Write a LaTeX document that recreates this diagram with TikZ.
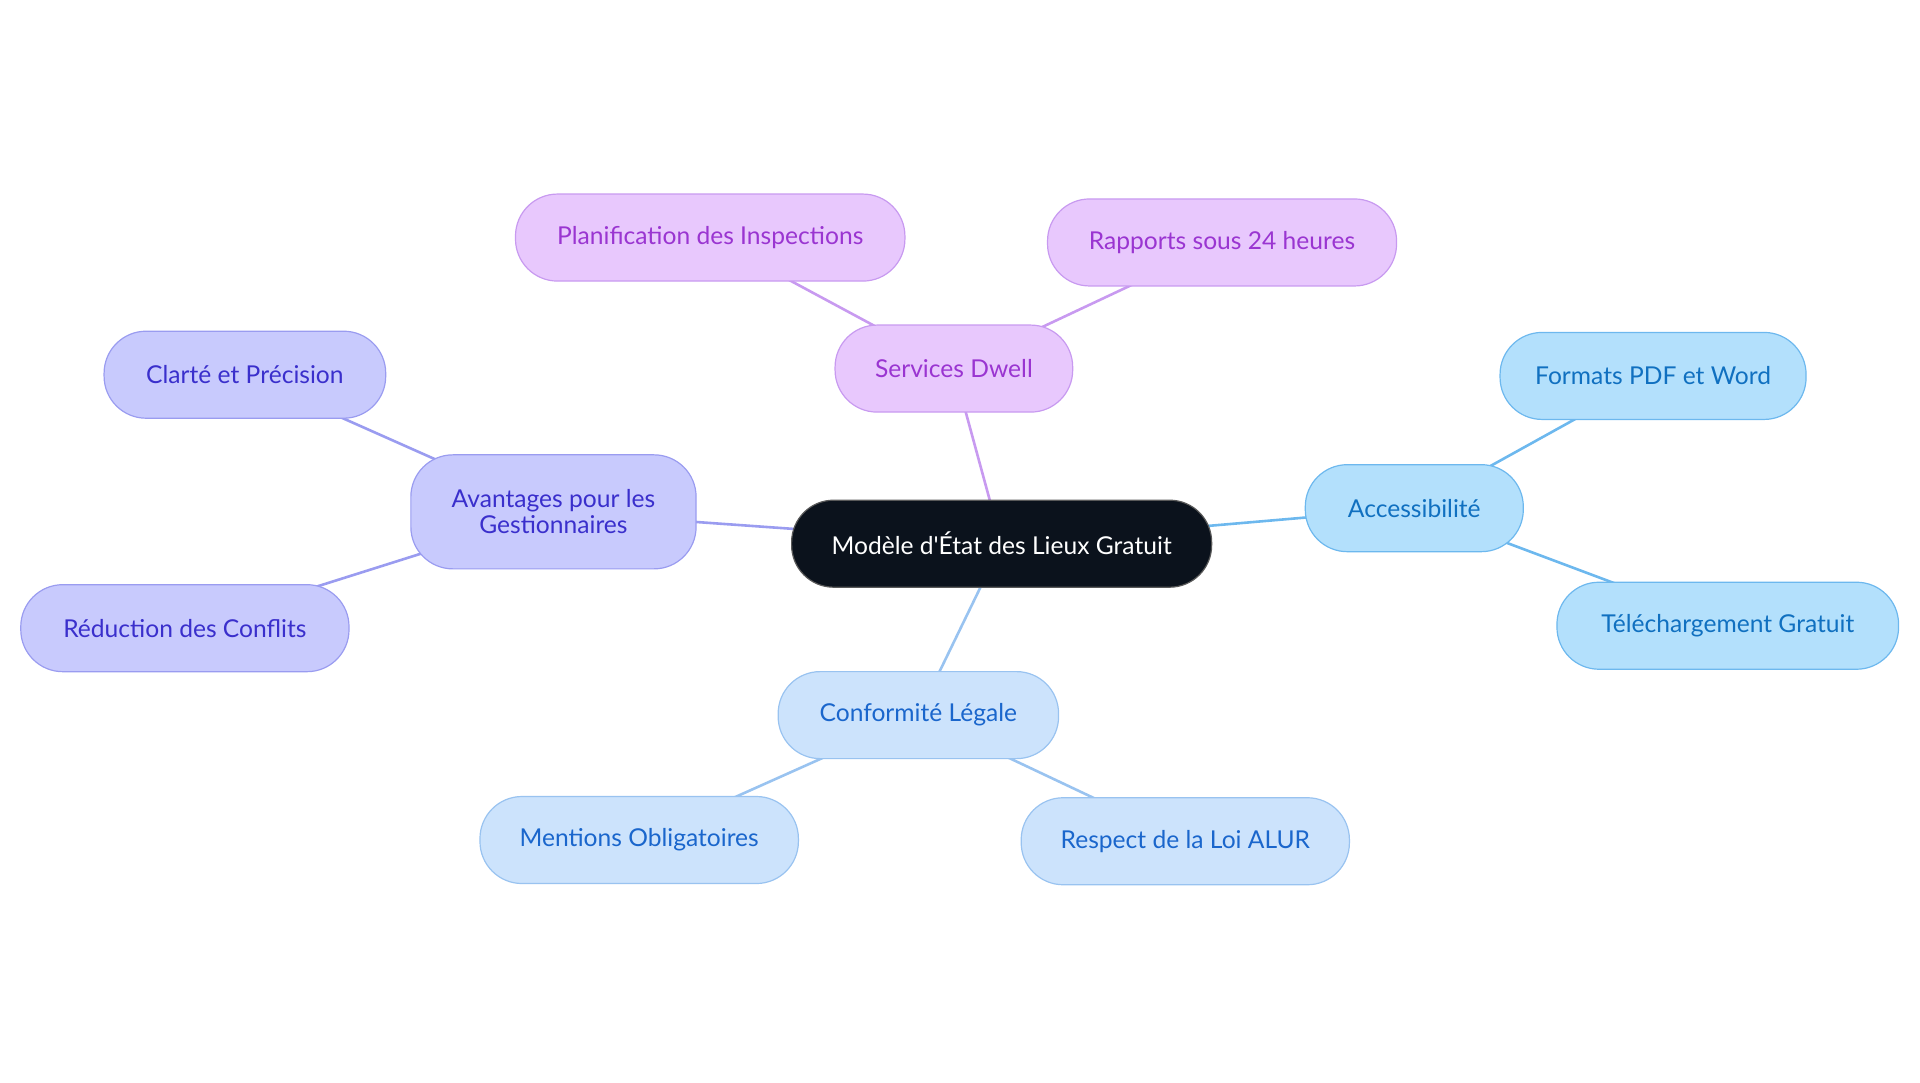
\documentclass[tikz,border=0pt]{standalone}
\usepackage{fontspec}
\setmainfont{Lato}
\usetikzlibrary{backgrounds}
\definecolor{cdark}{HTML}{0B121C}
\definecolor{pfill}{HTML}{E8C8FD}\definecolor{ptext}{HTML}{9A35D1}\definecolor{pline}{HTML}{C89AF0}
\definecolor{vfill}{HTML}{C8CAFD}\definecolor{vtext}{HTML}{3A2FCC}\definecolor{vline}{HTML}{9A9CF0}
\definecolor{afill}{HTML}{B3E0FC}\definecolor{atext}{HTML}{1070C0}\definecolor{aline}{HTML}{6DB8EE}
\definecolor{cfill}{HTML}{CCE3FC}\definecolor{ctext}{HTML}{1A66CC}\definecolor{cline}{HTML}{99C3F0}
\begin{document}
\begin{tikzpicture}[x=0.6122pt,y=-0.6122pt,
  box/.style={rounded corners=21pt,minimum height=43.5pt,align=center,font=\fontsize{12.3}{13}\selectfont,line width=0.6pt,inner sep=0pt},
  pbox/.style={box,fill=pfill,draw=pline,text=ptext},
  vbox/.style={box,fill=vfill,draw=vline,text=vtext},
  abox/.style={box,fill=afill,draw=aline,text=atext},
  cbox/.style={box,fill=cfill,draw=cline,text=ctext},
  edge/.style={line width=1.3pt}]
\useasboundingbox (0,0) rectangle (1568,884.4);
\node[box,fill=cdark,draw=gray!70!black,text=white,minimum width=210pt] (root) at (818,444) {Modèle d\textquotesingle État des Lieux Gratuit};
\node[pbox,minimum width=118.8pt] (sd) at (779,301) {Services Dwell};
\node[pbox,minimum width=194.7pt] (pl) at (580,194) {Planification des Inspections};
\node[pbox,minimum width=174.5pt] (ra) at (998,198) {Rapports sous 24 heures};
\node[vbox,minimum width=142.6pt,minimum height=57pt] (av) at (452,418) {Avantages pour les\\Gestionnaires};
\node[vbox,minimum width=140.8pt] (cl) at (200,306) {Clarté et Précision};
\node[vbox,minimum width=164.1pt] (re) at (151,513) {Réduction des Conflits};
\node[abox,minimum width=109pt] (ac) at (1155,415) {Accessibilité};
\node[abox,minimum width=153pt] (fo) at (1350,307) {Formats PDF et Word};
\node[abox,minimum width=170.8pt] (te) at (1411,511) {Téléchargement Gratuit};
\node[cbox,minimum width=140.2pt] (co) at (750,584) {Conformité Légale};
\node[cbox,minimum width=159.2pt] (me) at (522,686) {Mentions Obligatoires};
\node[cbox,minimum width=164.1pt] (rl) at (968,687) {Respect de la Loi ALUR};
\begin{scope}[on background layer]
\draw[edge,pline] (root.center)--(sd.center) (sd.center)--(pl.center) (sd.center)--(ra.center);
\draw[edge,vline] (root.center)--(av.center) (av.center)--(cl.center) (av.center)--(re.center);
\draw[edge,aline] (root.center)--(ac.center) (ac.center)--(fo.center) (ac.center)--(te.center);
\draw[edge,cline] (root.center)--(co.center) (co.center)--(me.center) (co.center)--(rl.center);
\end{scope}
\end{tikzpicture}
\end{document}
